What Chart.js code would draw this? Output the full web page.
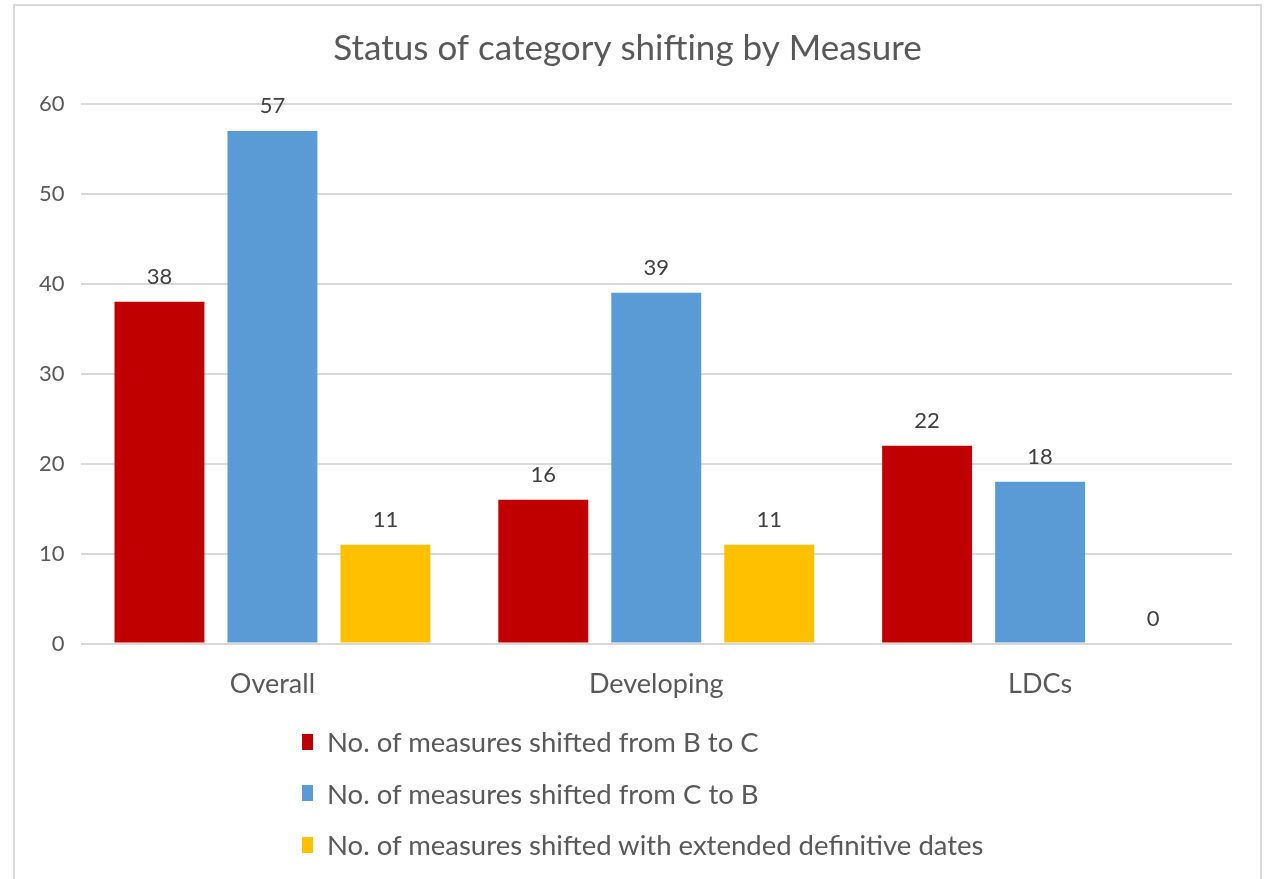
<!DOCTYPE html>
<html>
<head>
<meta charset="utf-8">
<script src="https://cdn.jsdelivr.net/npm/chart.js@4.4.0/dist/chart.umd.min.js"></script>
<style>
  body { margin: 0; background: #fff; }
  #page { position: relative; width: 1268px; height: 879px; overflow: hidden; background: #fff; }
  #frame { position: absolute; left: 13px; top: 4px; width: 1245px; height: 900px; border: 2px solid #d9d9d9; }
  #box { position: absolute; left: 0; top: 0; width: 1268px; height: 737px; }
  #legend { position: absolute; left: 302px; top: 716px; font-family: Lato, sans-serif; font-size: 27.5px; color: #595959; }
  #legend div { height: 51.5px; display: flex; align-items: center; }
  #legend span.sw { display: inline-block; width: 11px; height: 16px; margin-right: 14px; }
</style>
</head>
<body>
<div id="page">
  <div id="frame"></div>
  <div id="box"><canvas id="chart"></canvas></div>
  <div id="legend"></div>
</div>
<script>
// data
var categories = ["Overall", "Developing", "LDCs"];
var seriesNames = [
  "No. of measures shifted from B to C",
  "No. of measures shifted from C to B",
  "No. of measures shifted with extended definitive dates"
];
var bToC = [38, 16, 22];
var cToB = [57, 39, 18];
var extended = [11, 11, 0];
var colors = ["#C00000", "#5B9BD5", "#FFC000"];

Chart.defaults.font.family = "Lato";
Chart.defaults.color = "#595959";

// numbers on top of the bars
var valueLabels = {
  id: "valueLabels",
  afterDatasetsDraw: function(chart) {
    var ctx = chart.ctx;
    ctx.save();
    ctx.font = "22px Lato";
    ctx.fillStyle = "#404040";
    ctx.textAlign = "center";
    ctx.textBaseline = "bottom";
    chart.data.datasets.forEach(function(ds, i) {
      chart.getDatasetMeta(i).data.forEach(function(bar, j) {
        ctx.fillText(ds.data[j], bar.x, bar.y - 14);
      });
    });
    ctx.restore();
  }
};

var chart = new Chart(document.getElementById("chart"), {
  type: "bar",
  data: {
    labels: categories,
    datasets: [
      { label: seriesNames[0], data: bToC, backgroundColor: colors[0] },
      { label: seriesNames[1], data: cToB, backgroundColor: colors[1] },
      { label: seriesNames[2], data: extended, backgroundColor: colors[2] }
    ]
  },
  options: {
    responsive: true,
    maintainAspectRatio: false,
    animation: false,
    datasets: { bar: { categoryPercentage: 0.883, barPercentage: 0.796 } },
    layout: { padding: { left: 23, right: 36, top: 18, bottom: 13 } },
    plugins: {
      legend: { display: false },
      tooltip: { enabled: false },
      title: {
        display: true,
        text: "Status of category shifting by Measure",
        color: "#595959",
        font: { size: 35, weight: "normal" },
        padding: { top: 10, bottom: 34 }
      }
    },
    scales: {
      x: {
        grid: { display: false, drawTicks: false },
        border: { display: false },
        ticks: { font: { size: 27 }, color: "#595959", padding: 24 }
      },
      y: {
        min: 0,
        max: 60,
        ticks: { stepSize: 10, font: { size: 22 }, color: "#595959", padding: 16 },
        grid: { color: "#d9d9d9", lineWidth: 2, drawTicks: false },
        border: { display: false }
      }
    }
  },
  plugins: [valueLabels]
});

// legend as a vertical list under the chart
var legend = document.getElementById("legend");
chart.data.datasets.forEach(function(ds) {
  var row = document.createElement("div");
  var sw = document.createElement("span");
  sw.className = "sw";
  sw.style.background = ds.backgroundColor;
  row.appendChild(sw);
  row.appendChild(document.createTextNode(ds.label));
  legend.appendChild(row);
});
</script>
</body>
</html>
